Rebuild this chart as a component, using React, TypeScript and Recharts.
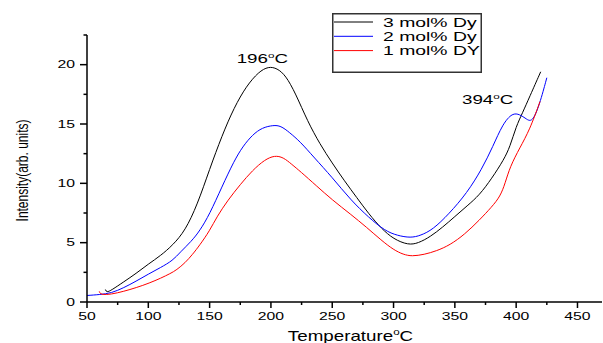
import React from "react";
import { LineChart, Line, XAxis, YAxis, Legend, ReferenceDot } from "recharts";

// 3 mol% Dy
const dy3Temp = [65, 66, 70, 80, 90, 100, 110, 120, 130, 140, 150, 160, 170, 180, 190, 198, 205, 212, 220, 230, 240, 250, 260, 270, 280, 290, 300, 312, 320, 330, 340, 350, 360, 370, 380, 390, 395, 400, 405, 411, 420];
const dy3Int = [1.05, 0.8, 1.0, 1.7, 2.4, 3.2, 3.9, 4.8, 6.0, 8.2, 11.2, 14.0, 16.4, 18.2, 19.4, 19.85, 19.7, 19.1, 17.6, 15.2, 13.3, 11.7, 10.2, 8.8, 7.4, 6.2, 5.3, 4.8, 4.95, 5.5, 6.3, 7.2, 8.1, 9.0, 10.4, 12.0, 13.1, 14.8, 15.9, 17.3, 19.4];

// 2 mol% Dy
const dy2Temp = [50, 60, 70, 80, 90, 100, 110, 120, 126, 135, 142, 150, 160, 170, 177, 185, 193, 202, 208, 215, 224, 235, 250, 265, 280, 293, 303, 314, 322, 332, 345, 360, 372, 381, 389, 397, 403, 408, 413, 419, 425];
const dy2Int = [0.55, 0.62, 0.75, 1.2, 1.75, 2.35, 2.9, 3.5, 4.2, 5.1, 6.0, 7.4, 9.7, 11.9, 13.1, 14.1, 14.7, 14.9, 14.85, 14.3, 13.5, 12.2, 10.5, 8.6, 7.1, 6.0, 5.6, 5.4, 5.6, 6.1, 7.4, 9.2, 11.2, 13.1, 15.0, 15.95, 15.8, 15.45, 15.1, 16.6, 18.9];

// 1 mol% DY
const dy1Temp = [60, 61, 70, 80, 90, 101, 110, 118, 123, 130, 136, 142, 150, 156, 165, 175, 185, 195, 203, 210, 217, 224, 237, 250, 265, 278, 290, 300, 308, 315, 325, 335, 346, 358, 370, 380, 387, 391, 395, 403, 411, 419.5];
const dy1Int = [0.9, 0.6, 0.65, 0.9, 1.2, 1.6, 2.0, 2.4, 2.7, 3.3, 4.0, 4.8, 6.0, 7.2, 8.6, 9.9, 11.1, 12.0, 12.35, 12.2, 11.6, 11.0, 9.8, 8.6, 7.4, 6.3, 5.2, 4.4, 4.0, 3.85, 4.0, 4.3, 4.8, 5.7, 6.9, 8.0, 8.9, 10.0, 11.4, 13.0, 14.5, 16.9];

const seriesNames = ["3 mol% Dy", "2 mol% Dy", "1 mol% DY"];
const seriesColors = ["#000000", "#0000ff", "#ff0000"];

const xTicks = [50, 75, 100, 125, 150, 175, 200, 225, 250, 275, 300, 325, 350, 375, 400, 425, 450];
const yTicks = [0, 2.5, 5, 7.5, 10, 12.5, 15, 17.5, 20, 22.5];

const peakLabels = ["196", "394"];
const peakAt = [
  { t: 193, i: 20.1 },
  { t: 376.7, i: 16.7 },
];

const toRows = (ts: number[], vs: number[]) => ts.map((t, k) => ({ t, v: vs[k] }));
const series = [toRows(dy3Temp, dy3Int), toRows(dy2Temp, dy2Int), toRows(dy1Temp, dy1Int)];

const FONT = "'Liberation Sans', Arial, sans-serif";

function SText({ x, y, sx = 1.5, size = 11, anchor = "start", rotate = false, children }: any) {
  return (
    <text
      transform={`translate(${x},${y}) scale(${sx},1)${rotate ? " rotate(-90)" : ""}`}
      fontSize={size}
      textAnchor={anchor}
      fontFamily={FONT}
      fill="#000"
    >
      {children}
    </text>
  );
}

function Deg({ size }: { size: number }) {
  return (
    <>
      <tspan dy={-size * 0.42} fontSize={size * 0.62}>o</tspan>
      <tspan dy={size * 0.42}>C</tspan>
    </>
  );
}

function XTick(props: any) {
  const { x, y, payload } = props;
  const v = payload.value;
  const major = v % 50 === 0;
  return (
    <g>
      <line x1={x} x2={x} y1={y} y2={y + (major ? 6 : 3)} stroke="#000" strokeWidth={1.5} />
      {major && (
        <SText x={x} y={y + 17.5} size={10.5} sx={1.5} anchor="middle">
          {v}
        </SText>
      )}
    </g>
  );
}

function YTick(props: any) {
  const { x, y, payload } = props;
  const v = payload.value;
  const major = v % 5 === 0;
  return (
    <g>
      <line x1={x} x2={x - (major ? 7 : 3.5)} y1={y} y2={y} stroke="#000" strokeWidth={1.5} />
      {major && (
        <SText x={x - 12} y={y + 3.7} size={10.5} sx={1.5} anchor="end">
          {v}
        </SText>
      )}
    </g>
  );
}

function LegendBox(props: any) {
  const items = [...(props.payload || [])].sort(
    (a: any, b: any) => seriesNames.indexOf(a.value) - seriesNames.indexOf(b.value)
  );
  return (
    <svg width={150} height={60} style={{ display: "block" }}>
      <rect x={0.75} y={0.75} width={148.5} height={58.5} fill="#fff" stroke="#333" strokeWidth={1.5} />
      {items.map((it: any, k: number) => {
        const ly = 9 + k * 14.3;
        return (
          <g key={k}>
            <line x1={2} x2={41} y1={ly} y2={ly} stroke={it.color} strokeWidth={1} />
            <SText x={51} y={ly + 4.8} size={12.5} sx={1.55}>
              {it.value}
            </SText>
          </g>
        );
      })}
    </svg>
  );
}

function PeakLabel({ viewBox, text }: any) {
  return (
    <SText x={viewBox.x} y={viewBox.y} size={12.5} sx={1.5} anchor="middle">
      {text}
      <Deg size={12.5} />
    </SText>
  );
}

export default function App() {
  return (
    <div style={{ position: "absolute", left: 0, top: 0, width: 603, height: 343, background: "#fff" }}>
      <LineChart width={603} height={343} margin={{ top: 35, right: 1, bottom: 0, left: 0 }}>
        <XAxis
          type="number"
          dataKey="t"
          domain={[50, 470]}
          ticks={xTicks}
          allowDataOverflow
          height={41}
          tickSize={0}
          tickMargin={0}
          tickLine={false}
          tick={<XTick />}
          interval={0}
          axisLine={{ stroke: "#000", strokeWidth: 1.5 }}
          label={{
            content: ({ viewBox }: any) => (
              <SText x={viewBox.x + viewBox.width / 2 + 6} y={viewBox.y + 38.5} size={14} sx={1.34} anchor="middle">
                Temperature
                <Deg size={14} />
              </SText>
            ),
          }}
        />
        <YAxis
          type="number"
          domain={[0, 22.5]}
          ticks={yTicks}
          allowDataOverflow
          width={87}
          tickSize={0}
          tickMargin={0}
          tickLine={false}
          tick={<YTick />}
          interval={0}
          axisLine={{ stroke: "#000", strokeWidth: 1.5 }}
          label={{
            content: ({ viewBox }: any) => (
              <SText x={28} y={viewBox.y + viewBox.height / 2 + 2} size={12} sx={1.4} anchor="middle" rotate>
                Intensity(arb. units)
              </SText>
            ),
          }}
        />
        <Legend
          layout="vertical"
          align="center"
          verticalAlign="middle"
          wrapperStyle={{ left: 332, top: 13, width: 150, height: 60 }}
          content={<LegendBox />}
        />
        {series.map((d, k) => (
          <Line
            key={seriesNames[k]}
            data={d}
            dataKey="v"
            name={seriesNames[k]}
            type="basis"
            stroke={seriesColors[k]}
            strokeWidth={1}
            dot={false}
            isAnimationActive={false}
          />
        ))}
        {peakAt.map((p, k) => (
          <ReferenceDot
            key={k}
            x={p.t}
            y={p.i}
            r={0.01}
            fill="none"
            stroke="none"
            label={{ content: (lp: any) => <PeakLabel viewBox={lp.viewBox} text={peakLabels[k]} /> }}
          />
        ))}
      </LineChart>
    </div>
  );
}
